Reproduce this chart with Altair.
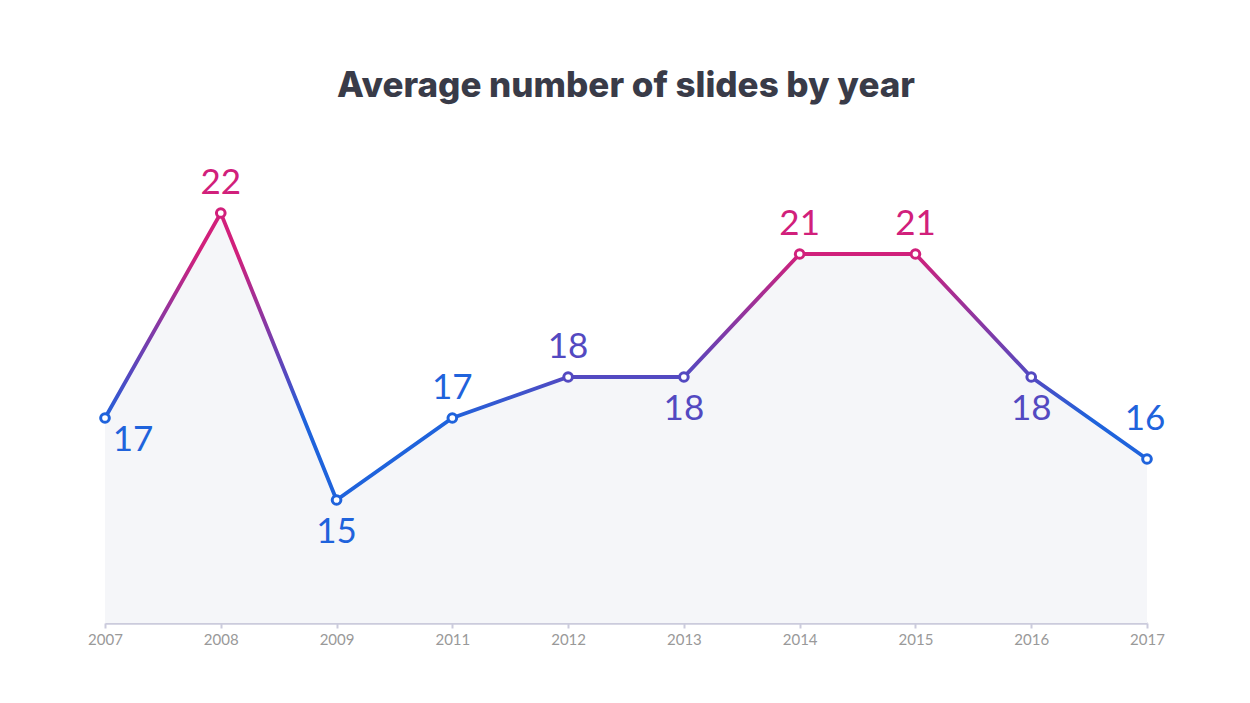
import altair as alt
import pandas as pd

years = ["2007", "2008", "2009", "2011", "2012", "2013", "2014", "2015", "2016", "2017"]
slides = [17, 22, 15, 17, 18, 18, 21, 21, 18, 16]

# label placement groups
below = ["2009", "2013", "2016"]
below_right = ["2007"]
above_high = ["2017"]

value_domain = [15, 16, 17, 18, 21, 22]
BLUE = "#1f63dc"
PURPLE = "#5349c1"
MAGENTA = "#d1207b"
value_colors = [BLUE, BLUE, BLUE, PURPLE, MAGENTA, MAGENTA]

df = pd.DataFrame({"year": years, "value": slides})

FONT = "Lato"
TITLE_FONT = "Inter"

x = alt.X("year:O", sort=years, scale=alt.Scale(type="point", padding=0),
          axis=alt.Axis(title=None, labelAngle=0))
y = alt.Y("value:Q", scale=alt.Scale(domain=[12, 24], nice=False, zero=False), axis=None)

base = alt.Chart(df)

area = base.mark_area(color="#f5f6f9").encode(x=x, y=y, y2=alt.datum(12))

grad = alt.Gradient(
    gradient="linear",
    x1=0, x2=0, y1=0, y2=1,
    stops=[
        alt.GradientStop(color=MAGENTA, offset=0),
        alt.GradientStop(color=MAGENTA, offset=0.14),
        alt.GradientStop(color=PURPLE, offset=0.57),
        alt.GradientStop(color=BLUE, offset=0.72),
        alt.GradientStop(color=BLUE, offset=1),
    ],
)
line = base.mark_line(stroke=grad, strokeWidth=3.8).encode(x=x, y=y)

cscale = alt.Scale(domain=value_domain, range=value_colors)

points = base.mark_point(shape="circle", size=75, strokeWidth=3, opacity=1).encode(
    x=x, y=y,
    fill=alt.value("white"),
    stroke=alt.Stroke("value:O", scale=cscale, legend=None),
)

def labels(filt, dx=0, dy=0):
    return base.transform_filter(filt).mark_text(
        font=FONT, fontSize=35, dx=dx, dy=dy, baseline="middle", align="center"
    ).encode(
        x=x, y=y, text="value:Q",
        color=alt.Color("value:O", scale=cscale, legend=None),
    )

special = below + below_right + above_high
t_above = labels(~alt.FieldOneOfPredicate(field="year", oneOf=special), dy=-30)
t_below = labels(alt.FieldOneOfPredicate(field="year", oneOf=below), dy=32)
t_br = labels(alt.FieldOneOfPredicate(field="year", oneOf=below_right), dx=28, dy=22)
t_high = labels(alt.FieldOneOfPredicate(field="year", oneOf=above_high), dx=-2, dy=-40)

chart = alt.layer(area, line, points, t_above, t_below, t_br, t_high).properties(
    width=1042,
    height=492,
    background="white",
    title=alt.TitleParams(
        "Average number of slides by year",
        font=TITLE_FONT, fontSize=35, fontWeight=800, color="#393b48",
        anchor="middle", offset=27,
    ),
    autosize=alt.AutoSizeParams(type="none"),
    padding={"left": 97, "top": 123, "right": 95, "bottom": 72},
).configure_view(stroke=None).configure_axis(
    domainColor="#cbcbdc", domainWidth=2.5, tickColor="#cbcbdc", tickSize=5,
    tickWidth=2, labelColor="#999999", labelFont=FONT, labelFontSize=15,
    labelPadding=4, grid=False,
)

chart.save("out.html", embed_options={"renderer": "svg", "actions": False})
